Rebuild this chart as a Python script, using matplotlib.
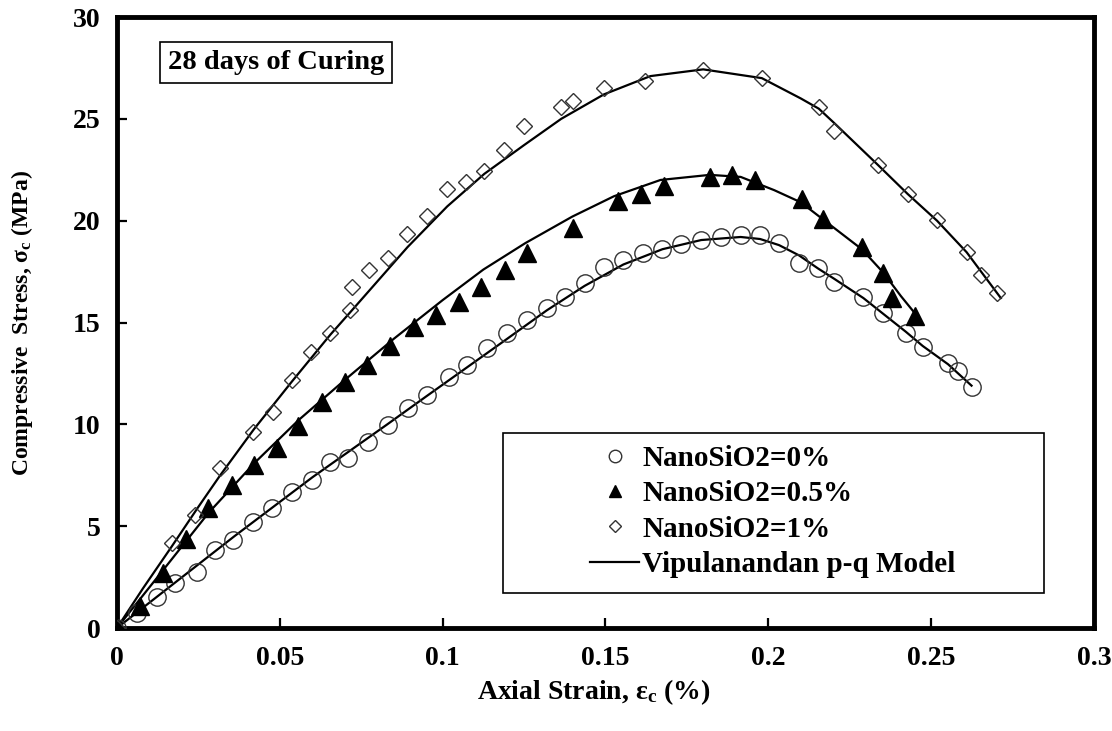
# Compressive stress-strain curves, 28 days of curing
import matplotlib
matplotlib.use('Agg')
from matplotlib import pyplot as plt
from matplotlib.patches import Rectangle
from matplotlib.lines import Line2D

# measured points (NanoSiO2 = 0 %)
strain_0 = [0, 0.0061, 0.0122, 0.0178, 0.0245, 0.0301, 0.0357, 0.0418, 0.0476, 0.0537,
            0.0599, 0.0655, 0.0710, 0.0772, 0.0833, 0.0895, 0.0952, 0.1018, 0.1075, 0.1137,
            0.1198, 0.1259, 0.1319, 0.1377, 0.1436, 0.1495, 0.1555, 0.1616, 0.1675, 0.1733,
            0.1794, 0.1854, 0.1915, 0.1975, 0.2033, 0.2094, 0.2153, 0.2202, 0.2292, 0.2351,
            0.2422, 0.2474, 0.2552, 0.2581, 0.2624]
stress_0 = [0, 0.72, 1.53, 2.21, 2.76, 3.83, 4.32, 5.22, 5.88, 6.69,
            7.27, 8.16, 8.35, 9.15, 9.97, 10.8, 11.44, 12.34, 12.91, 13.75,
            14.48, 15.12, 15.69, 16.26, 16.92, 17.74, 18.07, 18.39, 18.6, 18.84,
            19.05, 19.21, 19.29, 19.29, 18.89, 17.9, 17.66, 17.0, 16.26, 15.45,
            14.47, 13.81, 12.99, 12.63, 11.85]

# measured points (NanoSiO2 = 0.5 %)
strain_05 = [0, 0.0071, 0.0142, 0.0212, 0.0281, 0.0353, 0.0422, 0.0491, 0.0557, 0.0629,
             0.0701, 0.0768, 0.0839, 0.0911, 0.0980, 0.1049, 0.1118, 0.1190, 0.1259, 0.1400,
             0.1539, 0.1610, 0.1679, 0.1820, 0.1890, 0.1959, 0.2103, 0.2169, 0.2287, 0.2353,
             0.2381, 0.2450]
stress_05 = [0, 1.1, 2.7, 4.35, 5.88, 7.0, 8.0, 8.85, 9.9, 11.1,
             12.1, 12.9, 13.85, 14.8, 15.37, 16.02, 16.76, 17.58, 18.4, 19.62,
             20.98, 21.31, 21.7, 22.16, 22.24, 21.99, 21.05, 20.06, 18.69, 17.44,
             16.19, 15.33]

# measured points (NanoSiO2 = 1 %)
strain_1 = [0, 0.0168, 0.0240, 0.0317, 0.0419, 0.0480, 0.0537, 0.0596, 0.0655, 0.0716,
            0.0721, 0.0773, 0.0831, 0.0892, 0.0952, 0.1014, 0.1072, 0.1128, 0.1188, 0.1249,
            0.1364, 0.1400, 0.1495, 0.1621, 0.1799, 0.1980, 0.2155, 0.2202, 0.2337, 0.2428,
            0.2518, 0.2609, 0.2653, 0.2702]
stress_1 = [0, 4.19, 5.55, 7.84, 9.64, 10.62, 12.17, 13.53, 14.47, 15.61,
            16.76, 17.57, 18.15, 19.34, 20.23, 21.54, 21.91, 22.45, 23.47, 24.64,
            25.56, 25.89, 26.5, 26.85, 27.39, 26.99, 25.59, 24.41, 22.73, 21.31,
            20.03, 18.47, 17.33, 16.43]

# Vipulanandan p-q model curves
model_x_0 = [0, 0.012, 0.024, 0.036, 0.048, 0.06, 0.0715, 0.083, 0.0952, 0.1075,
             0.1198, 0.132, 0.1436, 0.1555, 0.1675, 0.1794, 0.1915, 0.1975, 0.2033, 0.2094,
             0.2153, 0.2202, 0.2292, 0.2351, 0.2422, 0.2474, 0.2552, 0.2624]
model_y_0 = [0, 1.5, 3.0, 4.5, 5.95, 7.4, 8.7, 10.0, 11.4, 12.8,
             14.2, 15.6, 16.8, 17.85, 18.6, 19.05, 19.2, 19.1, 18.8, 18.3,
             17.65, 17.15, 16.2, 15.45, 14.55, 13.85, 12.95, 11.9]

model_x_05 = [0, 0.0142, 0.0281, 0.0422, 0.0557, 0.0701, 0.085, 0.1, 0.1125, 0.1254,
              0.1398, 0.1526, 0.1669, 0.182, 0.1915, 0.2018, 0.21, 0.2169, 0.2287, 0.2353,
              0.2407, 0.2463]
model_y_05 = [0, 2.85, 5.65, 8.1, 10.2, 12.2, 14.2, 16.1, 17.6, 18.9,
              20.2, 21.2, 22.0, 22.25, 22.15, 21.5, 20.9, 20.05, 18.6, 17.45,
              16.3, 15.2]

model_x_1 = [0, 0.008, 0.0168, 0.025, 0.0317, 0.042, 0.0537, 0.0655, 0.0716, 0.0892,
             0.1014, 0.1128, 0.1249, 0.1364, 0.1495, 0.1638, 0.18, 0.198, 0.21, 0.2155,
             0.2202, 0.2337, 0.2428, 0.2518, 0.2609, 0.2714]
model_y_1 = [0, 1.95, 4.0, 5.95, 7.5, 9.75, 12.1, 14.4, 15.5, 18.7,
             20.7, 22.3, 23.7, 25.0, 26.2, 27.1, 27.43, 27.0, 26.0, 25.5,
             24.8, 22.73, 21.31, 20.0, 18.45, 16.2]

x_ticks = [0, 0.05, 0.1, 0.15, 0.2, 0.25, 0.3]
x_tick_labels = ['0', '0.05', '0.1', '0.15', '0.2', '0.25', '0.3']
y_ticks = [0, 5, 10, 15, 20, 25, 30]

plt.rcParams['font.family'] = ['Liberation Serif', 'DejaVu Serif']
plt.rcParams['font.weight'] = 'bold'
plt.rcParams['mathtext.default'] = 'regular'

fig = plt.figure(figsize=(11.12, 7.31), dpi=100)
ax = fig.add_axes([0.1052, 0.1409, 0.8786, 0.8358])

# model lines
ax.plot(model_x_0, model_y_0, color='black', lw=1.6, zorder=2)
ax.plot(model_x_05, model_y_05, color='black', lw=1.6, zorder=2)
ax.plot(model_x_1, model_y_1, color='black', lw=1.6, zorder=2)

# test data
ax.plot(strain_0, stress_0, ls='none', marker='o', ms=12.5, mfc='none',
        mec='#333333', mew=1.0, zorder=3)
ax.plot(strain_05, stress_05, ls='none', marker='^', ms=12.5, mfc='black',
        mec='black', zorder=3)
ax.plot(strain_1, stress_1, ls='none', marker='D', ms=8.5, mfc='none',
        mec='#333333', mew=1.0, zorder=3)

ax.set_xlim(0, 0.3)
ax.set_ylim(0, 30)
ax.set_xticks(x_ticks)
ax.set_xticklabels(x_tick_labels)
ax.set_yticks(y_ticks)
ax.tick_params(direction='in', length=7, width=1.6, labelsize=20, top=False, right=False)
ax.tick_params(axis='x', pad=13)
ax.tick_params(axis='y', pad=12)
for s in ax.spines.values():
    s.set_linewidth(3.5)

ax.set_xlabel('Axial Strain, $ε_c$ (%)', fontsize=20, fontweight='bold')
ax.set_ylabel('Compressive  Stress, $σ_c$ (MPa)', fontsize=17, fontweight='bold')
ax.xaxis.set_label_coords(0.488, -0.081)
ax.yaxis.set_label_coords(-0.084, 0.5)

# label box
ax.text(0.1627, 0.926, '28 days of Curing', transform=ax.transAxes, fontsize=20.5,
        fontweight='bold', ha='center', va='center',
        bbox=dict(boxstyle='square,pad=0.28', fc='white', ec='black', lw=1.2))

# legend in a separate frame
ax.add_patch(Rectangle((0.395, 0.0573), 0.554, 0.262, transform=ax.transAxes,
                       fill=False, ec='black', lw=1.2, zorder=4))
handles = [
    Line2D([], [], ls='none', marker='o', ms=9, mfc='none', mec='#333333', mew=1.0),
    Line2D([], [], ls='none', marker='^', ms=9, mfc='black', mec='black'),
    Line2D([], [], ls='none', marker='D', ms=6, mfc='none', mec='#333333', mew=1.0),
    Line2D([], [], color='black', lw=1.6),
]
labels = ['NanoSiO2=0%', 'NanoSiO2=0.5%', 'NanoSiO2=1%', 'Vipulanandan p-q Model']
ax.legend(handles, labels, loc='upper left', bbox_to_anchor=(0.484, 0.299),
          frameon=False, handlelength=1.7, handletextpad=0.1,
          borderpad=0, borderaxespad=0, labelspacing=0.28,
          prop={'family': 'Liberation Serif', 'weight': 'bold', 'size': 21})

plt.savefig('out.png', dpi=100)
